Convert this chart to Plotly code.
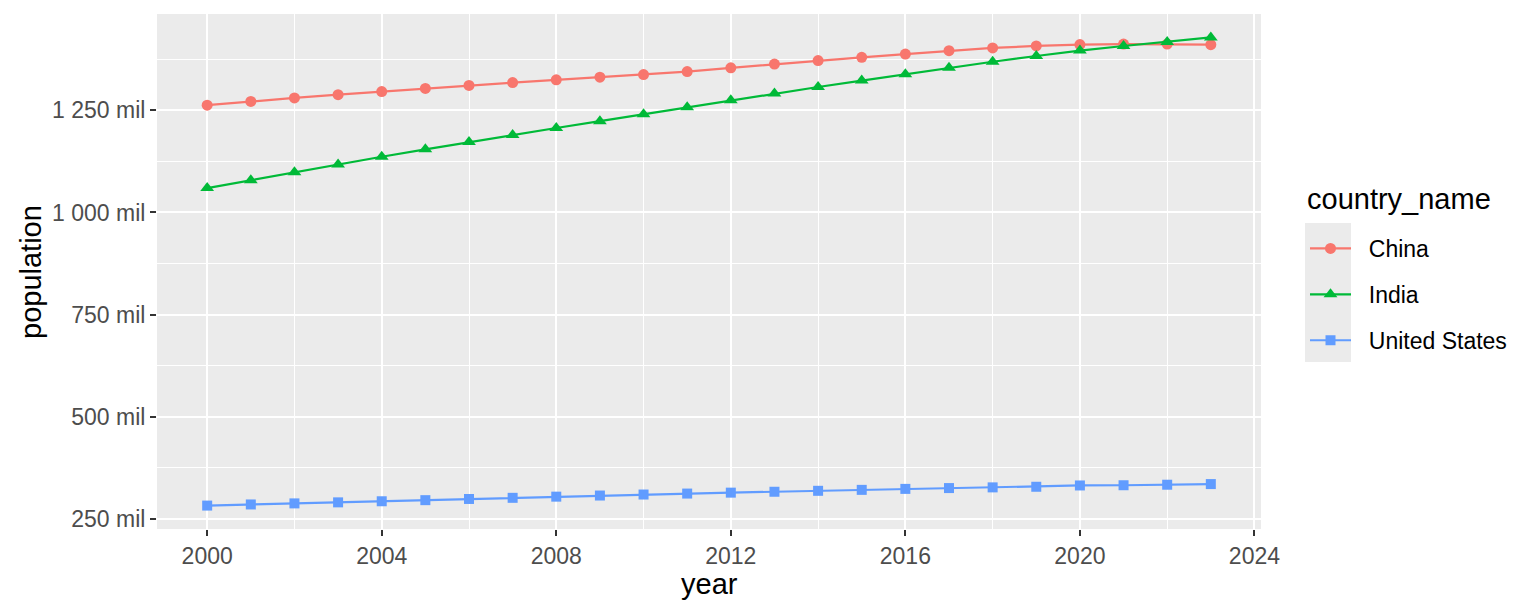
import plotly.graph_objects as go

years = list(range(2000, 2024))
china = [1262.6, 1271.9, 1280.4, 1288.4, 1296.1, 1303.7, 1311.0, 1317.9, 1324.7, 1331.3,
         1337.7, 1345.0, 1354.2, 1363.2, 1371.9, 1379.9, 1387.8, 1396.2, 1402.8, 1407.7,
         1411.1, 1412.4, 1412.2, 1410.7]
india = [1059.6, 1079.0, 1098.3, 1117.4, 1136.3, 1154.6, 1172.4, 1189.7, 1206.7, 1223.6,
         1240.6, 1257.6, 1274.5, 1291.1, 1307.2, 1322.9, 1338.6, 1354.2, 1369.0, 1383.1,
         1396.4, 1407.6, 1417.2, 1428.6]
usa = [282.2, 285.0, 287.6, 290.1, 292.8, 295.5, 298.4, 301.2, 304.1, 306.8,
       309.3, 311.6, 313.9, 316.1, 318.4, 320.7, 323.1, 325.1, 326.8, 328.3,
       331.5, 332.0, 333.3, 334.9]

series = [("China", china, "#F8766D", "circle", 11),
          ("India", india, "#00BA38", "triangle-up", 12),
          ("United States", usa, "#619CFF", "square", 10)]

fig = go.Figure()
for name, vals, col, sym, sz in series:
    fig.add_trace(go.Scatter(
        x=years, y=vals, name="\u00a0\u00a0" + name, mode="lines+markers", legendgroup=name,
        line=dict(color=col, width=2.2),
        marker=dict(symbol=sym, size=sz, color=col),
    ))

allv = china + india + usa
ymin, ymax = min(allv), max(allv)
ypad = (ymax - ymin) * 0.05
xpad = (years[-1] - years[0]) * 0.05

# page body has an 8px margin; panel in window coords: x 157..1261, y 14..529
OFF = 8
W, H = 1536, 614
L, T = 157 - OFF, 14 - OFF
R = W - (1261 - OFF)
B = H - (529 - OFF)
pw, ph = W - L - R, H - T - B

def px(x):  # window x -> paper
    return (x - 157) / pw

def py(y):  # window y -> paper
    return (529 - y) / ph

fig.add_shape(type="rect", xref="paper", yref="paper",
              x0=px(1305), x1=px(1351), y0=py(362), y1=py(223),
              fillcolor="#EBEBEB", line=dict(width=0), layer="below")

axis_common = dict(
    showline=False, zeroline=False, ticks="outside", ticklen=6, tickwidth=2,
    tickcolor="#333333", gridcolor="white", gridwidth=2,
    tickfont=dict(size=23, color="#4D4D4D"),
)

fig.update_xaxes(
    **axis_common, range=[years[0] - xpad, years[-1] + xpad],
    tickmode="linear", tick0=2000, dtick=4,
    minor=dict(tickmode="linear", tick0=2000, dtick=2, showgrid=True,
               gridcolor="white", gridwidth=1),
)
fig.update_yaxes(
    **axis_common, range=[ymin - ypad, ymax + ypad],
    tickmode="linear", tick0=250, dtick=250, tickformat=",d", ticksuffix=" mil",
    minor=dict(tickmode="linear", tick0=125, dtick=125, showgrid=True,
               gridcolor="white", gridwidth=1),
)

fig.add_annotation(text="year", xref="paper", yref="paper", x=px(709), y=py(584),
                   xanchor="center", yanchor="middle", showarrow=False,
                   font=dict(size=29, color="black"))
fig.add_annotation(text="population", xref="paper", yref="paper", x=px(31), y=py(272),
                   xanchor="center", yanchor="middle", showarrow=False, textangle=-90,
                   font=dict(size=29, color="black"))
fig.add_annotation(text="country_name", xref="paper", yref="paper", x=px(1305), y=py(199),
                   xanchor="left", yanchor="middle", showarrow=False,
                   font=dict(size=29, color="black"))

fig.update_layout(
    width=W, height=H, separators=". ",
    margin=dict(l=L, r=R, t=T, b=B, autoexpand=False),
    paper_bgcolor="white", plot_bgcolor="#EBEBEB",
    font=dict(family="Liberation Sans, Arial, sans-serif", color="black"),
    legend=dict(
        font=dict(size=23), x=px(1305), xanchor="left", y=py(227), yanchor="top",
        bgcolor="rgba(0,0,0,0)", itemwidth=41, tracegroupgap=13,
    ),
    showlegend=True,
)

fig.write_html("out.html")
